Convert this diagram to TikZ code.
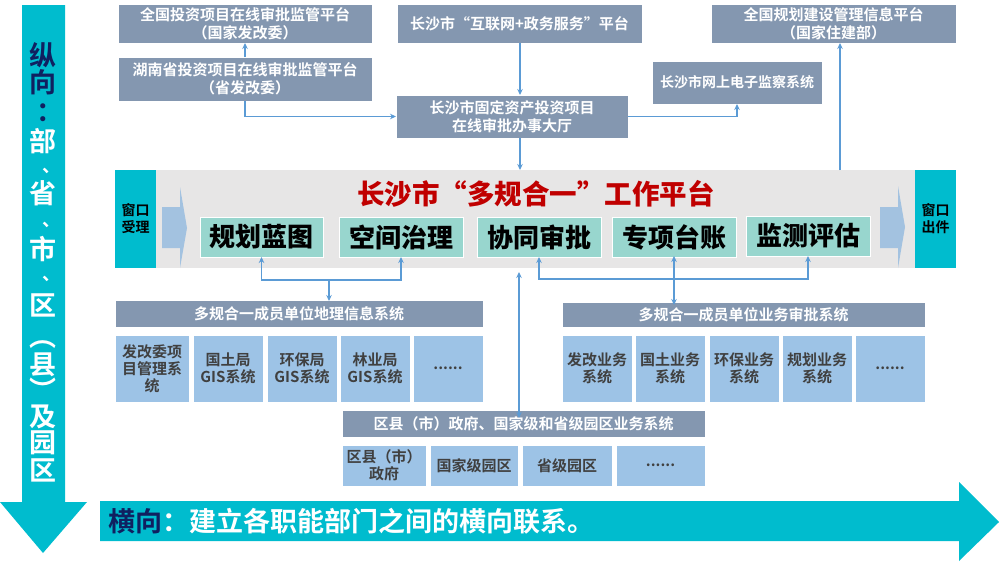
\documentclass[tikz,border=0pt]{standalone}
\usepackage{fontspec}
\setmainfont{Noto Sans CJK SC}[BoldFont={Noto Sans CJK SC Bold}]
\newfontfamily\heavy{Noto Sans CJK SC Black}
\usetikzlibrary{arrows.meta}
\definecolor{tealc}{RGB}{0,188,206}
\definecolor{gbox}{RGB}{132,151,176}
\definecolor{lblue}{RGB}{157,195,230}
\definecolor{tbox}{RGB}{152,214,206}
\definecolor{connc}{RGB}{91,155,213}
\definecolor{platbg}{RGB}{231,230,230}
\definecolor{chev}{RGB}{163,194,224}
\definecolor{redc}{RGB}{192,0,0}
\definecolor{navy}{RGB}{16,32,96}
\definecolor{dgray}{RGB}{64,64,64}
\newcommand\mkbox[7]{\node[#6, minimum width={(#4-#2)*1pt}, minimum height={(#5-#3)*1pt}] (#1) at ({(#2+#4)/2},{(#3+#5)/2}) {#7};}
\newcommand\dunhao{\hspace*{16pt}{\fontsize{18}{18}\selectfont 、}}
\begin{document}
\begin{tikzpicture}[x=1pt,y=-1pt,
  base/.style={rectangle, inner sep=0pt, outer sep=0pt, align=center, draw=white, line width=0.6pt},
  topbox/.style={base, fill=gbox, text=white, font=\bfseries\fontsize{15}{18}\selectfont},
  hdr/.style={base, fill=gbox, text=white, font=\bfseries\fontsize{15}{18}\selectfont},
  sub/.style={base, fill=lblue, text=dgray, font=\bfseries\fontsize{15}{17}\selectfont},
  tb/.style={base, fill=tbox, text=black, font=\heavy\fontsize{26}{30}\selectfont},
  win/.style={base, draw=none, fill=tealc, text=black, font=\bfseries\fontsize{14}{17}\selectfont},
  conn/.style={draw=connc, line width=1.3pt, >={Stealth[length=6pt,width=5.5pt]}},
  vtext/.style={inner sep=0pt, align=center, text=white, font=\bfseries\fontsize{27}{28}\selectfont}]
\useasboundingbox (0,0) rectangle (1000,562);
% big arrows
\fill[tealc] (22,5) -- (65,5) -- (65,502) -- (87,502) -- (43,553) -- (0,502) -- (22,502) -- cycle;
\fill[tealc] (100,501) -- (959,501) -- (959,482) -- (999,522) -- (959,561) -- (959,541) -- (100,541) -- cycle;
% vertical text
\node[vtext, anchor=north] (vt) at (43,42) {\textcolor{navy}{纵}\\[-1pt]
  \textcolor{navy}{向}\\[1pt]
  \hspace*{14pt}\textcolor{navy}{：}\\[2pt]
  部\\[-7pt]
  \dunhao\\[3pt]
  省\\[-5pt]
  \dunhao\\[5pt]
  市\\[-7pt]
  \dunhao\\[7pt]
  区\\[3pt]
  ︵\\[0pt]
  县\\[-2pt]
  ︶\\[-2pt]
  及\\[-2pt]
  园\\[0pt]
  区};
\node[anchor=west, inner sep=0pt, font=\bfseries\fontsize{27}{30}\selectfont, text=white] (htext) at (108,521) {\textcolor{navy}{横向}：建立各职能部门之间的横向联系。};
% top boxes
\mkbox{A}{118}{4}{372}{43}{topbox}{全国投资项目在线审批监管平台\\（国家发改委）}
\mkbox{B}{118}{57}{372}{101}{topbox}{湖南省投资项目在线审批监管平台\\（省发改委）}
\mkbox{C}{397}{4}{642}{43}{topbox}{长沙市“互联网+政务服务”平台}
\mkbox{D}{396}{95}{628}{138}{topbox}{长沙市固定资产投资项目\\在线审批办事大厅}
\mkbox{E}{652}{61}{822}{104}{topbox, font=\bfseries\fontsize{14}{17}\selectfont}{长沙市网上电子监察系统}
\mkbox{F}{711}{4}{956}{43}{topbox}{全国规划建设管理信息平台\\（国家住建部）}
% platform
\mkbox{plat}{156}{170}{915}{268}{base, draw=none, fill=platbg}{}
\mkbox{win1}{115}{170}{156}{268}{win}{窗口\\受理}
\mkbox{win2}{915}{170}{956}{268}{win}{窗口\\出件}
\fill[chev] (162,207) -- (180,207) -- (180,187) -- (187,228) -- (180,268) -- (180,248) -- (162,248) -- cycle;
\fill[chev] (880,207) -- (898,207) -- (898,186) -- (905,227) -- (898,268) -- (898,248) -- (880,248) -- cycle;
\node[font=\heavy\fontsize{27.5}{30}\selectfont, text=redc, inner sep=0pt] (title) at (536,194) {长沙市“多规合一”工作平台};
\mkbox{t1}{200}{217}{323}{257}{tb}{规划蓝图}
\mkbox{t2}{339}{217}{463}{257}{tb}{空间治理}
\mkbox{t3}{477}{217}{601}{257}{tb}{协同审批}
\mkbox{t4}{612}{217}{736}{257}{tb}{专项台账}
\mkbox{t5}{746}{216}{870}{256}{tb}{监测评估}
% lower left group
\mkbox{gis}{115}{300}{483}{327}{hdr}{多规合一成员单位地理信息系统}
\mkbox{g1}{115}{335}{189}{402}{sub}{发改委项\\目管理系\\统}
\mkbox{g2}{193}{335}{263}{402}{sub}{国土局\\GIS系统}
\mkbox{g3}{267}{335}{337}{402}{sub}{环保局\\GIS系统}
\mkbox{g4}{340}{335}{410}{402}{sub}{林业局\\GIS系统}
\mkbox{g5}{413}{335}{483}{402}{sub}{......}
% lower right group
\mkbox{biz}{562}{302}{925}{327}{hdr}{多规合一成员单位业务审批系统}
\mkbox{b1}{562}{335}{632}{402}{sub}{发改业务\\系统}
\mkbox{b2}{635}{335}{705}{402}{sub}{国土业务\\系统}
\mkbox{b3}{709}{335}{779}{402}{sub}{环保业务\\系统}
\mkbox{b4}{782}{335}{852}{402}{sub}{规划业务\\系统}
\mkbox{b5}{855}{335}{925}{402}{sub}{......}
% district group
\mkbox{dist}{342}{410}{705}{437}{hdr}{区县（市）政府、国家级和省级园区业务系统}
\mkbox{d1}{342}{445}{426}{486}{sub}{区县（市）\\政府}
\mkbox{d2}{430}{445}{518}{486}{sub}{国家级园区}
\mkbox{d3}{522}{445}{612}{486}{sub}{省级园区}
\mkbox{d4}{616}{445}{705}{486}{sub}{......}
% connectors top
\draw[conn,->] (B.north) -- (A.south);
\draw[conn,->] (B.south) |- (D.west);
\draw[conn,->] ([xshift=0.5pt]C.south) -- ([xshift=0.5pt]C.south |- D.north);
\draw[conn,->] (D.east) -| (E.south);
\draw[conn,->] ([xshift=0.5pt]C.south |- D.south) -- ([xshift=0.5pt]C.south |- plat.north);
\draw[conn,->] ([xshift=6.5pt]F.south |- plat.north) -- ([xshift=6.5pt]F.south);
% connectors bottom
\coordinate (j1) at (329,280);
\draw[conn,->] (j1) -| (t1.south);
\draw[conn,->] (j1) -| (t2.south);
\draw[conn,->] (j1) -- ([yshift=-1pt]j1 |- gis.north);
\coordinate (m1) at (519,272);
\draw[conn,<->] (m1) -- ([yshift=-8pt]m1 |- dist.north);
\coordinate (j2) at (675,279);
\draw[conn,->] (j2) -| (t3.south);
\draw[conn,->] (j2) -| (t5.south);
\draw[conn,<->] ([yshift=1pt]t4.south) -- ([yshift=-3pt]t4.south |- biz.north);
\end{tikzpicture}
\end{document}
